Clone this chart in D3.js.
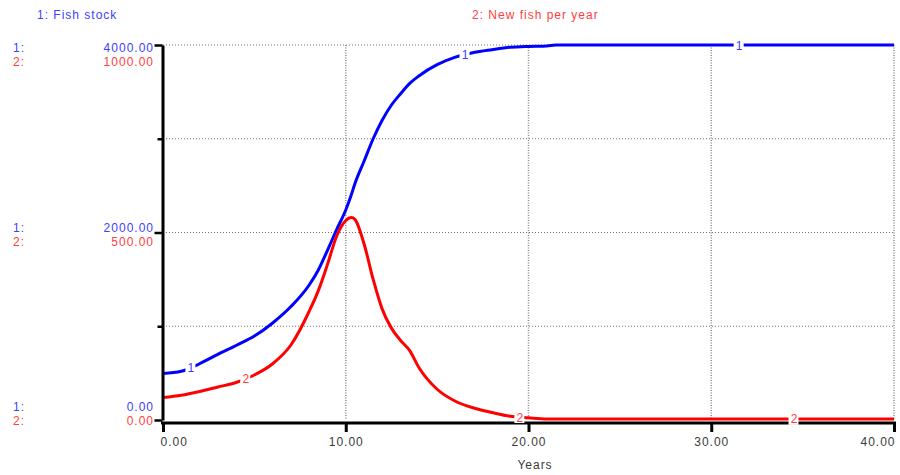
<!DOCTYPE html>
<html>
<head>
<meta charset="utf-8">
<script src="https://cdn.jsdelivr.net/npm/d3@7"></script>
<style>
  html, body { margin: 0; padding: 0; background: #fff; }
  svg text { font-family: "Liberation Sans", Arial, sans-serif; font-size: 12px; letter-spacing: 1px; }
</style>
</head>
<body>
<svg id="chart" width="900" height="475"></svg>
<script>
// ---- data ----
const years = [0,1,2,3,4,5,6,7,8,8.5,9,9.5,10,10.3,10.5,11,11.5,12,12.5,13,13.5,14,15,16,17,18,19,20,21,21.5,22,25,30,35,40];
const fishStock = [496,520,600,700,795,895,1035,1210,1440,1600,1810,2030,2240,2400,2520,2760,3000,3200,3360,3480,3590,3670,3790,3870,3920,3950,3975,3985,3990,4000,4000,4000,4000,4000,4000];
const newFish = [60,66,76,88,100,120,150,200,290,345,415,490,532,540,535,470,375,295,245,212,185,140,82,50,32,20,10,6,3,3,3,3,3,3,3];
const xTicks = [0,10,20,30,40];
const stockTicks = [0,2000,4000];
const newTicks = [0,500,1000];
const gridStock = [1000,2000,3000,4000];
const series = [
  {id:"1", name:"Fish stock", values:fishStock, line:"#0000ff", text:"#4040ff", marks:[1.5,16.5,31.5]},
  {id:"2", name:"New fish per year", values:newFish, line:"#ff0000", text:"#ff4040", marks:[4.5,19.5,34.5]}
];

// ---- layout ----
const svg = d3.select("#chart");
const x = d3.scaleLinear().domain([0,40]).range([163,894]);
const yS = d3.scaleLinear().domain([0,4000]).range([420,45]);
const yN = d3.scaleLinear().domain([0,1000]).range([420,45]);
series[0].y = yS; series[1].y = yN;

// grid
const grid = svg.append("g");
grid.selectAll("line.h").data(gridStock).enter().append("line")
  .attr("x1", x(0)).attr("x2", x(40)).attr("y1", d=>yS(d)).attr("y2", d=>yS(d))
  .attr("stroke","#707070").attr("stroke-width",1).attr("stroke-dasharray","1,2");
grid.selectAll("line.v").data(xTicks.slice(1)).enter().append("line")
  .attr("x1", d=>x(d)).attr("x2", d=>x(d)).attr("y1", yS(4000)).attr("y2", yS(0))
  .attr("stroke","#8a8a8a").attr("stroke-width",1.5).attr("stroke-dasharray","1,1.5");

// series lines
series.forEach(s => {
  const line = d3.line().x((d,i)=>x(years[i])).y(d=>s.y(d)).curve(d3.curveMonotoneX);
  svg.append("path").datum(s.values)
    .attr("d", line).attr("fill","none").attr("stroke", s.line)
    .attr("stroke-width",3).attr("stroke-linejoin","round");
});

// axes
const axL = svg.append("g").attr("transform","translate(162.5,0)")
  .call(d3.axisLeft(yS).tickValues([0,1000,2000,3000,4000]).tickSize(8).tickSizeOuter(0).tickFormat(""));
axL.select(".domain").attr("stroke","#000").attr("stroke-width",3);
axL.selectAll(".tick line").attr("stroke","#000").attr("stroke-width",2.5)
  .attr("x2", d => (d % 2000 === 0) ? -8 : -5);

const axB = svg.append("g").attr("transform","translate(0,423)")
  .call(d3.axisBottom(x).tickValues(xTicks).tickSize(9).tickSizeOuter(0).tickPadding(5)
    .tickFormat(d3.format(".2f")));
axB.select(".domain").attr("stroke","#000").attr("stroke-width",3).attr("d","M161,0H896");
axB.selectAll(".tick line").attr("stroke","#000").attr("stroke-width",3);
axB.selectAll(".tick text").attr("fill","#3a3a3a").attr("font-size",null)
  .attr("font-family",null)
  .attr("text-anchor",(d,i)=> i===0 ? "start" : (i===xTicks.length-1 ? "end" : "middle"))
  .attr("dx",(d,i)=> i===0 ? -3 : (i===xTicks.length-1 ? 1 : 0));

svg.append("text").attr("x", 535).attr("y", 469).attr("text-anchor","middle")
  .attr("fill","#3a3a3a").text("Years");

// left value labels
stockTicks.forEach((v,i) => {
  const ty = yS(v);
  let blueY;
  if (i === stockTicks.length-1) blueY = ty + 7;      // top: pair hangs below
  else if (i === 0) blueY = ty - 9;                    // bottom: pair sits above
  else blueY = ty - 1;                                 // middle: centered
  const redY = blueY + 14;
  svg.append("text").attr("x",13).attr("y",blueY).attr("fill",series[0].text).text("1:");
  svg.append("text").attr("x",13).attr("y",redY).attr("fill",series[1].text).text("2:");
  svg.append("text").attr("x",154).attr("y",blueY).attr("text-anchor","end").attr("fill",series[0].text)
    .text(d3.format(".2f")(v));
  svg.append("text").attr("x",154).attr("y",redY).attr("text-anchor","end").attr("fill",series[1].text)
    .text(d3.format(".2f")(newTicks[i]));
});

// titles
svg.append("text").attr("x",37).attr("y",19).attr("fill",series[0].text).text("1: Fish stock");
svg.append("text").attr("x",472).attr("y",19).attr("fill",series[1].text).text("2: New fish per year");

// line markers
function valueAt(vals, t) {
  const i = d3.bisectRight(years, t);
  if (i <= 0) return vals[0];
  if (i >= years.length) return vals[vals.length-1];
  const t0 = years[i-1], t1 = years[i];
  return vals[i-1] + (vals[i]-vals[i-1])*(t-t0)/(t1-t0);
}
series.forEach(s => {
  s.marks.forEach(t => {
    const cx = x(t), cy = s.y(valueAt(s.values, t));
    svg.append("rect").attr("x",cx-5).attr("y",cy-6).attr("width",10).attr("height",12).attr("fill","#fff");
    svg.append("text").attr("x",cx+0.5).attr("y",cy+4.5).attr("text-anchor","middle")
      .attr("fill",s.text).style("letter-spacing","0px").text(s.id);
  });
});
</script>
</body>
</html>
